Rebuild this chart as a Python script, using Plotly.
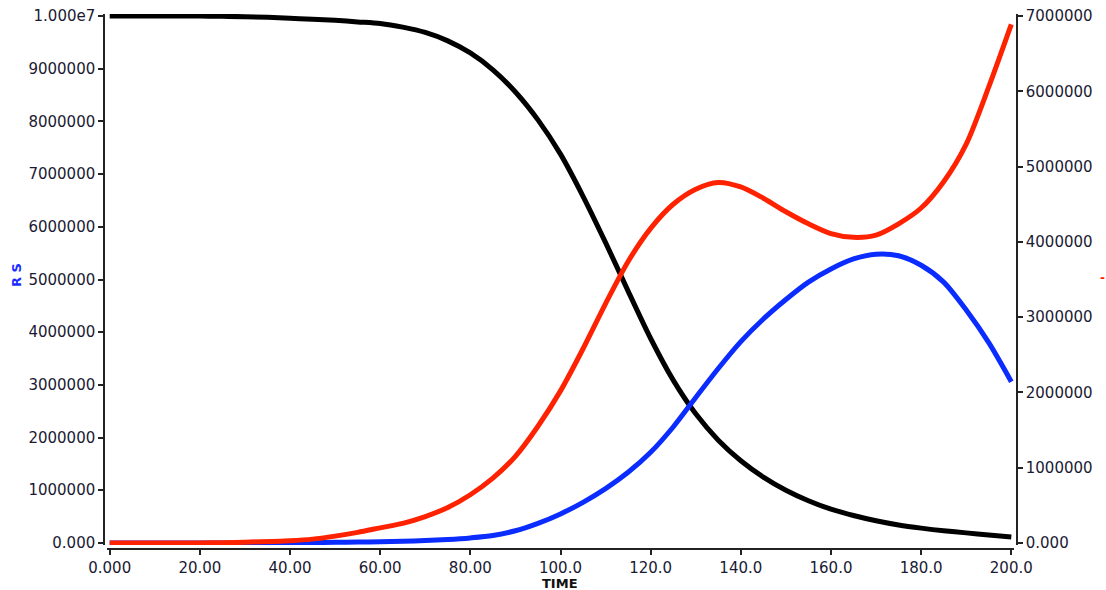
import plotly.graph_objects as go

# ---- data ----
time = [0, 10, 20, 25, 30, 40, 45, 50, 55, 60, 65, 70, 75, 80, 85, 90, 95, 100,
        105, 110, 115, 120, 125, 130, 135, 140, 145, 150, 155, 160, 165, 170,
        175, 180, 185, 190, 195, 200]

S = [10.0e6, 10.0e6, 10.0e6, 9.995e6, 9.99e6, 9.96e6, 9.94e6, 9.92e6, 9.89e6, 9.86e6,
     9.79e6, 9.69e6, 9.53e6, 9.30e6, 8.98e6, 8.56e6, 8.03e6, 7.38e6,
     6.58e6, 5.70e6, 4.78e6, 3.88e6, 3.09e6, 2.45e6, 1.95e6, 1.56e6, 1.25e6, 1.00e6,
     0.80e6, 0.64e6, 0.52e6, 0.42e6, 0.34e6, 0.28e6, 0.23e6, 0.19e6, 0.15e6, 0.11e6]

R = [0, 0, 0, 0, 0, 0.003e6, 0.006e6, 0.01e6, 0.015e6, 0.02e6, 0.03e6, 0.045e6, 0.065e6,
     0.095e6, 0.14e6, 0.23e6, 0.37e6, 0.55e6,
     0.77e6, 1.03e6, 1.34e6, 1.72e6, 2.20e6, 2.76e6, 3.31e6, 3.82e6, 4.25e6, 4.62e6,
     4.95e6, 5.20e6, 5.39e6, 5.48e6, 5.45e6, 5.27e6, 4.95e6, 4.42e6, 3.80e6, 3.06e6]

I = [0, 0, 0, 0.003e6, 0.01e6, 0.03e6, 0.05e6, 0.09e6, 0.14e6, 0.20e6, 0.26e6, 0.35e6, 0.47e6,
     0.64e6, 0.86e6, 1.15e6, 1.55e6, 2.02e6,
     2.58e6, 3.18e6, 3.74e6, 4.18e6, 4.50e6, 4.70e6, 4.79e6, 4.73e6, 4.58e6, 4.40e6,
     4.24e6, 4.11e6, 4.06e6, 4.09e6, 4.24e6, 4.45e6, 4.80e6, 5.30e6, 6.06e6, 6.89e6]

x_ticks = [0, 20, 40, 60, 80, 100, 120, 140, 160, 180, 200]
x_ticklabels = ["0.000", "20.00", "40.00", "60.00", "80.00", "100.0",
                "120.0", "140.0", "160.0", "180.0", "200.0"]
yl_ticks = [0, 1e6, 2e6, 3e6, 4e6, 5e6, 6e6, 7e6, 8e6, 9e6, 1e7]
yl_ticklabels = ["0.000", "1000000", "2000000", "3000000", "4000000", "5000000",
                 "6000000", "7000000", "8000000", "9000000", "1.000e7"]
yr_ticks = [0, 1e6, 2e6, 3e6, 4e6, 5e6, 6e6, 7e6]
yr_ticklabels = ["0.000", "1000000", "2000000", "3000000", "4000000",
                 "5000000", "6000000", "7000000"]

FONT = "DejaVu Sans"
TICKCOL = "#1a1a33"
AXCOL = "#222222"
LW = 5

fig = go.Figure()
fig.add_trace(go.Scatter(x=time, y=S, mode="lines", name="S",
                         line=dict(color="#000000", width=LW, shape="spline", smoothing=0.8)))
fig.add_trace(go.Scatter(x=time, y=R, mode="lines", name="R",
                         line=dict(color="#0a2cff", width=LW, shape="spline", smoothing=0.8)))
fig.add_trace(go.Scatter(x=time, y=I, mode="lines", name="I", yaxis="y2",
                         line=dict(color="#ff2200", width=LW, shape="spline", smoothing=0.8)))

W, H = 1106, 590
l, r, t, b = 104, 89, 14, 41
pw = W - l - r
ph = H - t - b

axis_common = dict(showgrid=False, zeroline=False, showline=True, linecolor=AXCOL,
                   linewidth=1.5, ticks="outside", ticklen=5, tickwidth=1.5,
                   tickcolor=AXCOL, automargin=False,
                   tickfont=dict(family=FONT, size=15, color=TICKCOL))

fig.update_layout(
    width=W, height=H,
    margin=dict(l=l, r=r, t=t, b=b, autoexpand=False),
    paper_bgcolor="white", plot_bgcolor="white",
    showlegend=False,
    xaxis=dict(**axis_common, domain=[3 / pw, 910 / pw], anchor="free", position=0,
               range=[-0.6, 200.6], tickvals=x_ticks, ticktext=x_ticklabels),
    yaxis=dict(**axis_common, domain=[4 / ph, 1], anchor="free", position=0,
               range=[-0.04e6, 1.004e7], tickvals=yl_ticks, ticktext=yl_ticklabels),
    yaxis2=dict(**axis_common, domain=[4 / ph, 1], anchor="free", position=1,
                overlaying="y", side="right",
                range=[-0.028e6, 7.028e6], tickvals=yr_ticks, ticktext=yr_ticklabels),
    annotations=[
        dict(text="<b>TIME</b>", xref="paper", yref="paper", x=(560 - l) / pw, y=-34 / ph,
             showarrow=False, font=dict(family=FONT, size=13, color="#111111"),
             xanchor="center", yanchor="middle"),
        dict(text="<b>R S</b>", xref="paper", yref="paper", x=(16 - l) / pw, y=(H - b - 275) / ph,
             showarrow=False, textangle=-90, font=dict(family=FONT, size=13, color="#1a2cff"),
             xanchor="center", yanchor="middle"),
        dict(text="<b>-</b>", xref="paper", yref="paper", x=(1102 - l) / pw, y=(H - b - 278) / ph,
             showarrow=False, font=dict(family=FONT, size=12, color="#ff2200"),
             xanchor="center", yanchor="middle"),
    ],
)

fig.write_html("out.html", config={"displayModeBar": False},
               post_script="document.body.style.margin='0';document.body.style.overflow='hidden';")
